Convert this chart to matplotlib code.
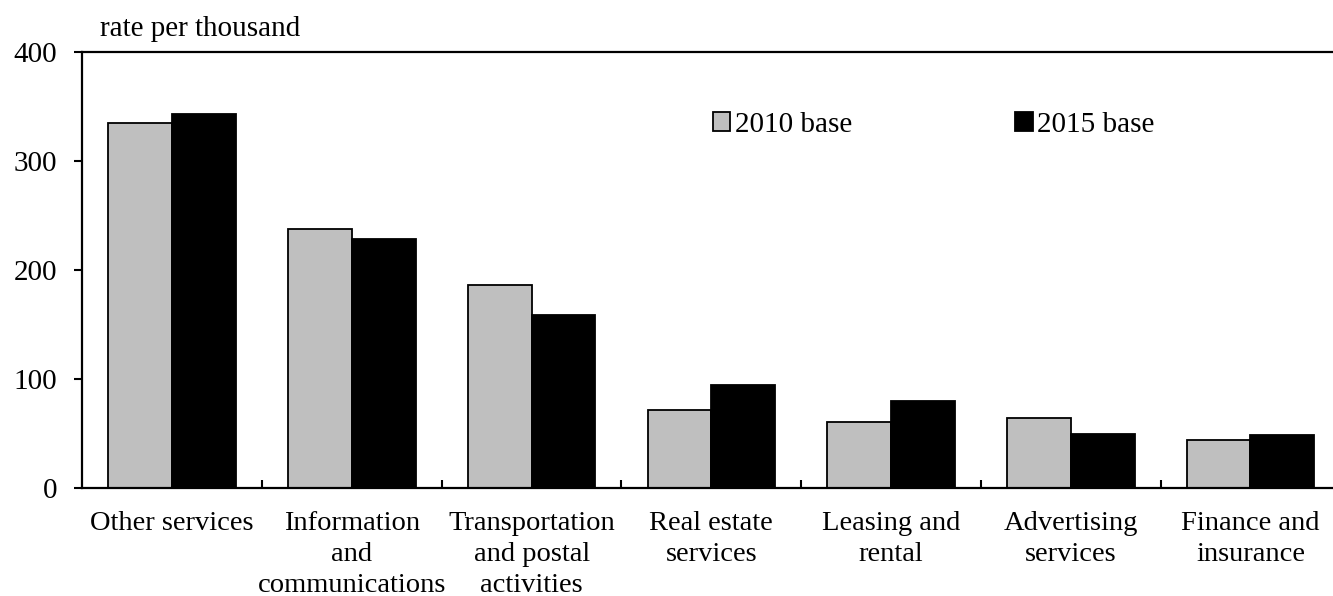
import matplotlib
matplotlib.use("Agg")
import matplotlib.pyplot as plt
import numpy as np

plt.rcParams['font.family'] = ['Liberation Serif', 'DejaVu Serif']

categories = ["Other services", "Information\nand\ncommunications",
              "Transportation\nand postal\nactivities", "Real estate\nservices",
              "Leasing and\nrental", "Advertising\nservices", "Finance and\ninsurance"]
base_2010 = [335, 238, 186.5, 72, 61, 64, 44]
base_2015 = [343, 229, 159, 95, 80, 49.5, 49]
series_names = ["2010 base", "2015 base"]

W, H = 1333, 596
fig = plt.figure(figsize=(W / 100, H / 100), dpi=100)
# axes runs a little past the right edge, as in the reference
ax = fig.add_axes([82.3 / W, (H - 488.3) / H, 1258 / W, (488.3 - 52) / H])

x = np.arange(len(categories))
w = 0.355
ax.bar(x - w / 2, base_2010, w, color="#bfbfbf", edgecolor="black", linewidth=1.3,
       label=series_names[0], zorder=2)
ax.bar(x + w / 2, base_2015, w, color="black", edgecolor="black", linewidth=1.3,
       label=series_names[1], zorder=2)

ax.set_xlim(-0.5, len(categories) - 0.5)
ax.set_ylim(0, 400)
ax.set_yticks([0, 100, 200, 300, 400])
ax.tick_params(axis='y', direction='out', length=6, width=1.5, pad=12, labelsize=21)

ax.set_xticks(x)
ax.set_xticklabels(categories, fontsize=20.5, linespacing=1.32)
ax.tick_params(axis='x', which='major', length=0, pad=16)
ax.set_xticks(np.arange(len(categories)) + 0.5, minor=True)
ax.tick_params(axis='x', which='minor', direction='in', length=6, width=1.5)

for side in ['left', 'top', 'bottom']:
    ax.spines[side].set_linewidth(1.6)
ax.spines['right'].set_visible(False)

fig.text(100 / W, 1 - 36 / H, "rate per thousand", fontsize=21, va='baseline')

leg = ax.legend(loc='upper left', bbox_to_anchor=(713 / W, 1 - 112 / H),
                bbox_transform=fig.transFigure, ncol=2, frameon=False,
                fontsize=21, handlelength=0.6, handleheight=0.6,
                handletextpad=0.15, columnspacing=5.6, borderpad=0,
                borderaxespad=0)

fig.savefig("out.png", dpi=100)
